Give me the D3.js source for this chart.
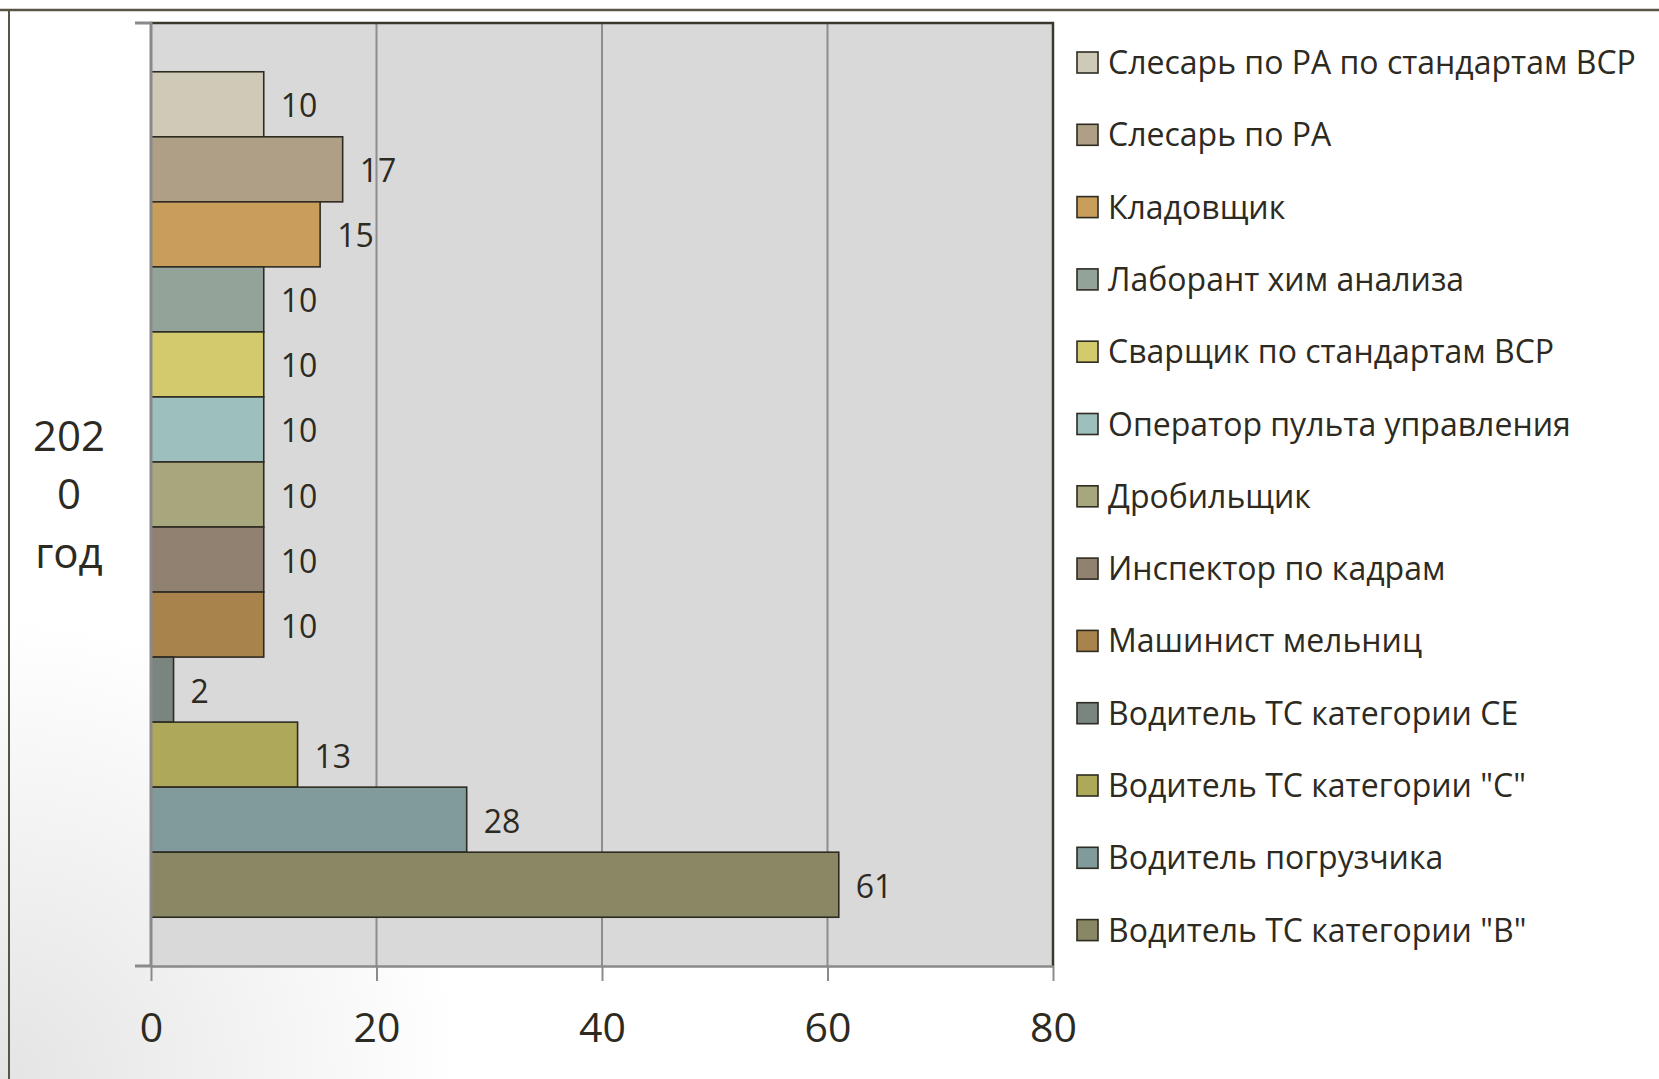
<!DOCTYPE html>
<html>
<head>
<meta charset="utf-8">
<script src="https://cdn.jsdelivr.net/npm/d3@7"></script>
<style>
  html, body { margin: 0; padding: 0; background: #fff; }
  svg { display: block; }
  text { font-family: "Open Sans", "Noto Sans", sans-serif; fill: #2d2a22; }
</style>
</head>
<body>
<svg id="chart" width="1659" height="1079"></svg>
<script>
// data (top bar first)
const categories = ["2020 год"];
const categoryLines = ["202", "0", "год"];
const series = [
  "Слесарь по РА по стандартам ВСР",
  "Слесарь по РА",
  "Кладовщик",
  "Лаборант хим анализа",
  "Сварщик по стандартам ВСР",
  "Оператор пульта управления",
  "Дробильщик",
  "Инспектор по кадрам",
  "Машинист мельниц",
  "Водитель ТС категории СЕ",
  "Водитель ТС категории \"С\"",
  "Водитель погрузчика",
  "Водитель ТС категории \"В\""
];
const values = [10, 17, 15, 10, 10, 10, 10, 10, 10, 2, 13, 28, 61];
const colors = [
  "#cecab7", "#b09f87", "#c99e5b", "#94a39a", "#d2ca6d", "#9dbfbe", "#a8a67d",
  "#918170", "#a8834c", "#7b8580", "#aea85a", "#819b9c", "#8a8864"
];
const xTicks = [0, 20, 40, 60, 80];

const svg = d3.select("#chart");

// page background: white with a soft grey corner bottom left
const defs = svg.append("defs");
const grad = defs.append("radialGradient")
  .attr("id", "corner")
  .attr("gradientUnits", "userSpaceOnUse")
  .attr("cx", 0).attr("cy", 1079).attr("r", 460);
grad.append("stop").attr("offset", "0%").attr("stop-color", "#e4e4e4");
grad.append("stop").attr("offset", "100%").attr("stop-color", "#ffffff");
svg.append("rect").attr("width", 1659).attr("height", 1079).attr("fill", "url(#corner)");

// slide frame lines
svg.append("line").attr("x1", 0).attr("x2", 1659).attr("y1", 10).attr("y2", 10)
  .attr("stroke", "#5a5444").attr("stroke-width", 2.5);
svg.append("line").attr("x1", 9).attr("x2", 9).attr("y1", 10).attr("y2", 1079)
  .attr("stroke", "#5a5444").attr("stroke-width", 2);

const plot = { left: 151, right: 1053, top: 23, bottom: 966 };

const x = d3.scaleLinear().domain([0, 80]).range([plot.left, plot.right]);
const y = d3.scaleBand().domain(series)
  .range([plot.top, plot.bottom])
  .paddingInner(0).paddingOuter(0.75);

// plot area
svg.append("rect")
  .attr("x", plot.left).attr("y", plot.top)
  .attr("width", plot.right - plot.left).attr("height", plot.bottom - plot.top)
  .attr("fill", "#d9d9d9");

// vertical gridlines
svg.append("g")
  .selectAll("line")
  .data(xTicks.slice(1, -1))
  .join("line")
  .attr("x1", d => x(d)).attr("x2", d => x(d))
  .attr("y1", plot.top).attr("y2", plot.bottom)
  .attr("stroke", "#8e8e8e").attr("stroke-width", 2);

// top and right border
svg.append("path")
  .attr("d", `M${plot.left},${plot.top}H${plot.right}V${plot.bottom}`)
  .attr("fill", "none").attr("stroke", "#3a382e").attr("stroke-width", 2.5);

// bars
svg.append("g")
  .selectAll("rect")
  .data(series)
  .join("rect")
  .attr("x", x(0))
  .attr("y", d => y(d))
  .attr("width", (d, i) => x(values[i]) - x(0))
  .attr("height", y.bandwidth())
  .attr("fill", (d, i) => colors[i])
  .attr("stroke", "#2e2b22").attr("stroke-width", 1.6);

// value labels
svg.append("g")
  .selectAll("text")
  .data(series)
  .join("text")
  .attr("x", (d, i) => x(values[i]) + 17)
  .attr("y", d => y(d) + y.bandwidth() / 2 + 13)
  .attr("font-size", 32)
  .text((d, i) => values[i]);

// x axis
const xAxis = svg.append("g")
  .attr("transform", `translate(0,${plot.bottom})`)
  .call(d3.axisBottom(x).tickValues(xTicks).tickSize(15).tickPadding(32).tickSizeOuter(0));
xAxis.select(".domain").attr("stroke", "#8a8a8a").attr("stroke-width", 2.5);
xAxis.selectAll(".tick line").attr("stroke", "#8a8a8a").attr("stroke-width", 2);
xAxis.selectAll(".tick text")
  .attr("font-size", 41)
  .attr("font-family", "'Open Sans', sans-serif")
  .attr("fill", "#2d2a22");

// y axis: one category, ticks on its edges
const yCat = d3.scaleBand().domain(categories).range([plot.top, plot.bottom]);
const yAxis = svg.append("g")
  .attr("transform", `translate(${plot.left},0)`)
  .call(d3.axisLeft(yCat).tickSize(0).tickFormat(""));
yAxis.select(".domain").attr("stroke", "#8a8a8a").attr("stroke-width", 3)
  .attr("d", `M-16,${plot.top}H0V${plot.bottom}H-16`).attr("fill", "none");

const catLabel = svg.append("text")
  .attr("x", 69)
  .attr("y", yCat(categories[0]) + yCat.bandwidth() / 2 - 44)
  .attr("text-anchor", "middle")
  .attr("font-size", 42);
catLabel.selectAll("tspan")
  .data(categoryLines)
  .join("tspan")
  .attr("x", 69)
  .attr("dy", (d, i) => i === 0 ? 0 : 58.5)
  .text(d => d);

// legend
const legend = svg.append("g")
  .selectAll("g")
  .data(series)
  .join("g")
  .attr("transform", (d, i) => `translate(1077,${62.5 + i * 72.3})`);
legend.append("rect")
  .attr("x", 0).attr("y", -10.5)
  .attr("width", 21).attr("height", 21)
  .attr("fill", (d, i) => colors[i])
  .attr("stroke", "#2e2b22").attr("stroke-width", 1.6);
legend.append("text")
  .attr("x", 31).attr("y", 11.5)
  .attr("font-size", 32)
  .text(d => d);
</script>
</body>
</html>
